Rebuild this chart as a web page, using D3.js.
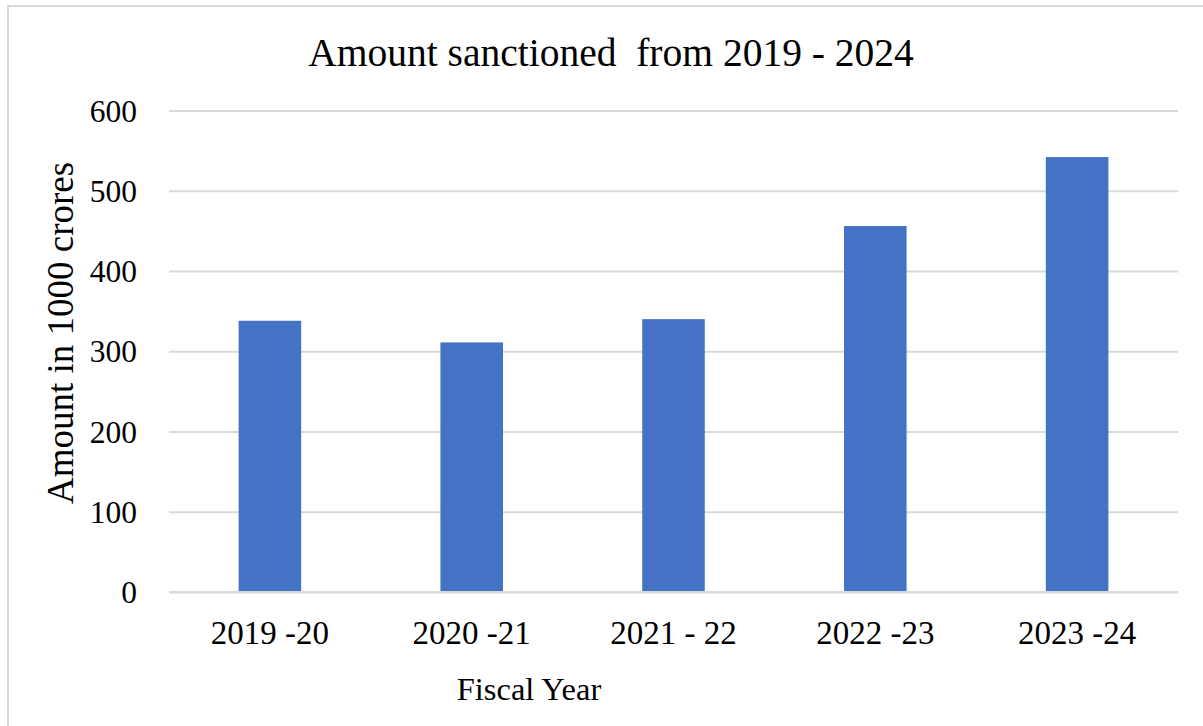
<!DOCTYPE html>
<html>
<head>
<meta charset="utf-8">
<script src="https://cdn.jsdelivr.net/npm/d3@7"></script>
<style>
  html, body { margin: 0; padding: 0; background: #fff; }
  svg { display: block; }
</style>
</head>
<body>
<svg id="chart" width="1203" height="726"></svg>
<script>
// Sanctioned amounts per fiscal year (in 1000 crores)
const categories = ["2019 -20", "2020 -21", "2021 - 22", "2022 -23", "2023 -24"];
const values = [338, 311, 340, 456, 542];
const yTicks = [0, 100, 200, 300, 400, 500, 600];

const titleText = "Amount sanctioned\u00A0 from 2019 - 2024";
const xTitle = "Fiscal Year";
const yTitle = "Amount in 1000 crores";

const FONT = "'Liberation Serif', Tinos, 'Times New Roman', serif";

const svg = d3.select("#chart");
const W = 1203, H = 726;
const plot = { left: 169, right: 1178, top: 110.5, bottom: 592 };

// Outer frame (top and left edges visible, rest runs off the canvas)
svg.append("rect")
  .attr("x", 8).attr("y", 6)
  .attr("width", W).attr("height", H)
  .attr("fill", "#fff")
  .attr("stroke", "#d9d9d9").attr("stroke-width", 2);

const x = d3.scaleBand()
  .domain(categories)
  .range([plot.left, plot.right])
  .paddingInner(0.69)
  .paddingOuter(0.345);

const y = d3.scaleLinear()
  .domain([0, 600])
  .range([plot.bottom, plot.top]);

// Horizontal gridlines and y tick labels
const yAxis = d3.axisLeft(y)
  .tickValues(yTicks)
  .tickSize(-(plot.right - plot.left))
  .tickPadding(32)
  .tickFormat(d3.format("d"));

const gy = svg.append("g")
  .attr("transform", `translate(${plot.left},0)`)
  .call(yAxis);
gy.select(".domain").remove();
gy.selectAll(".tick line").attr("stroke", "#d9d9d9").attr("stroke-width", 2);
gy.selectAll(".tick text")
  .style("font-family", FONT)
  .style("font-size", "31.5px")
  .attr("dy", "0.34em")
  .attr("fill", "#000");

// Bars
svg.append("g")
  .selectAll("rect")
  .data(values)
  .join("rect")
  .attr("x", (d, i) => x(categories[i]))
  .attr("width", x.bandwidth())
  .attr("y", d => y(d))
  .attr("height", d => y(0) - y(d))
  .attr("fill", "#4472c4");

// X axis labels
const xAxis = d3.axisBottom(x).tickSize(0).tickPadding(29);
const gx = svg.append("g")
  .attr("transform", `translate(0,${plot.bottom})`)
  .call(xAxis);
gx.select(".domain").remove();
gx.selectAll(".tick text")
  .style("font-family", FONT)
  .style("font-size", "33px")
  .attr("fill", "#000");

// Zero baseline drawn over bar bottoms
svg.append("line")
  .attr("x1", plot.left).attr("x2", plot.right)
  .attr("y1", y(0)).attr("y2", y(0))
  .attr("stroke", "#d9d9d9").attr("stroke-width", 2);

// Titles
svg.append("text")
  .attr("x", 611).attr("y", 66)
  .attr("text-anchor", "middle")
  .style("font-family", FONT)
  .style("font-size", "39.5px")
  .attr("fill", "#000")
  .text(titleText);

svg.append("text")
  .attr("x", 529).attr("y", 700)
  .attr("text-anchor", "middle")
  .style("font-family", FONT)
  .style("font-size", "32.5px")
  .attr("fill", "#000")
  .text(xTitle);

svg.append("text")
  .attr("transform", "translate(73,333) rotate(-90)")
  .attr("text-anchor", "middle")
  .style("font-family", FONT)
  .style("font-size", "37px")
  .attr("fill", "#000")
  .text(yTitle);
</script>
</body>
</html>
